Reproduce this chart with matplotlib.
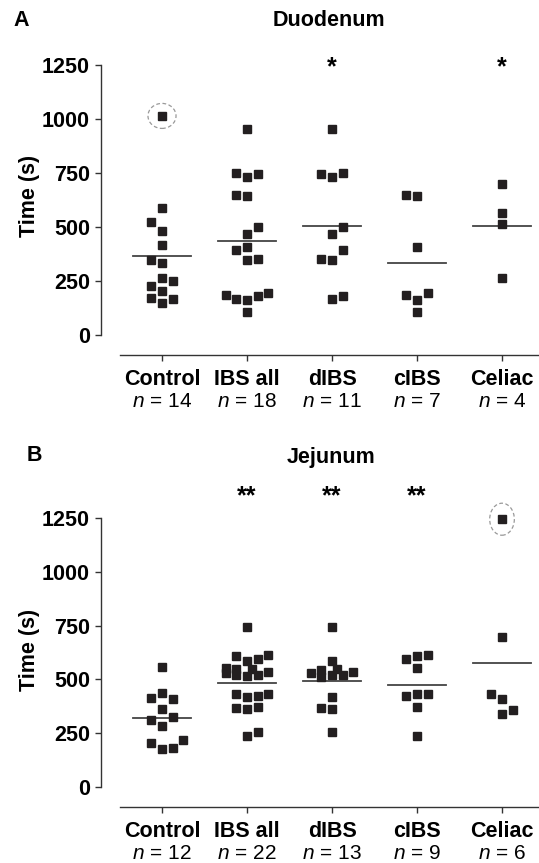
import matplotlib
matplotlib.use('Agg')
import matplotlib.pyplot as plt
from matplotlib.patches import Ellipse

plt.rcParams['font.family'] = ['Liberation Sans', 'DejaVu Sans']
plt.rcParams['mathtext.fontset'] = 'custom'
plt.rcParams['mathtext.it'] = 'Liberation Sans:italic'
plt.rcParams['mathtext.rm'] = 'Liberation Sans'

categories = ['Control', 'IBS all', 'dIBS', 'cIBS', 'Celiac']
yticks = [0, 250, 500, 750, 1000, 1250]

# Duodenum (panel A): values, jitter slot of each point, group mean
duo_n = [14, 18, 11, 7, 4]
duo_control = [1016, 589, 523, 481, 416, 348, 332, 263, 250, 227, 203, 172, 166, 147]
duo_control_slot = [0, 0, -1, 0, 0, -1, 0, 0, 1, -1, 0, -1, 1, 0]
duo_ibs = [954, 750, 734, 745, 648, 643, 500, 467, 407, 393, 346, 351, 184, 166, 161, 180, 193, 105]
duo_ibs_slot = [0, -1, 0, 1, -1, 0, 1, 0, 0, -1, 0, 1, -2, -1, 0, 1, 2, 0]
duo_dibs = [954, 745, 734, 750, 500, 467, 393, 351, 346, 180, 166]
duo_dibs_slot = [0, -1, 0, 1, 1, 0, 1, -1, 0, 1, 0]
duo_cibs = [648, 643, 407, 184, 193, 161, 105]
duo_cibs_slot = [-1, 0, 0, -1, 1, 0, 0]
duo_celiac = [699, 564, 513, 263]
duo_celiac_slot = [0, 0, 0, 0]
duo_means = [365, 437, 507, 332, 507]
duo_stars = ['', '', '*', '', '*']
duo_outlier = (0, 1016)

# Jejunum (panel B)
jej_n = [12, 22, 13, 9, 6]
jej_control = [556, 435, 412, 407, 360, 323, 309, 281, 202, 216, 174, 179]
jej_control_slot = [0, 0, -1, 1, 0, 1, -1, 0, -1, 2, 0, 1]
jej_ibs = [742, 607, 584, 593, 612, 551, 528, 547, 519, 547, 514, 519, 533,
           430, 416, 421, 430, 365, 360, 372, 235, 253]
jej_ibs_slot = [0, -1, 0, 1, 2, -2, -2, -1, -1, 0.5, 0, 1, 2, -1, 0, 1, 2, -1, 0, 1, 0, 1]
jej_dibs = [742, 584, 547, 528, 543, 512, 519, 519, 533, 416, 365, 360, 253]
jej_dibs_slot = [0, 0, 0.5, -2, -1, -1, 0, 1, 2, 0, -1, 0, 0]
jej_cibs = [612, 607, 593, 551, 430, 430, 421, 372, 235]
jej_cibs_slot = [1, 0, -1, 0, 1, 0, -1, 0, 0]
jej_celiac = [1245, 696, 430, 407, 356, 337]
jej_celiac_slot = [0, 0, -1, 0, 1, 0]
jej_means = [320, 484, 492, 472, 577]
jej_stars = ['', '**', '**', '**', '']
jej_outlier = (4, 1245)

W, H = 539, 863
fig = plt.figure(figsize=(W / 100, H / 100), dpi=100)

FS = 15.5
SLOT = 0.125
mark_col = '#231f20'
axis_col = '#333333'


def draw_panel(ax, groups, slots, means, ns, stars, outlier, star_y, ell_w, ell_h):
    for i, (vals, sl) in enumerate(zip(groups, slots)):
        xs = [i + s * SLOT for s in sl]
        ax.plot(xs, vals, 's', ms=5.2, color=mark_col, mec=mark_col, clip_on=False, zorder=3)
        ax.plot([i - 0.34, i + 0.34], [means[i], means[i]], color='#444444', lw=1.3, zorder=2)
        if stars[i]:
            ax.text(i, star_y, stars[i], ha='center', va='center', fontsize=18,
                    fontweight='bold', clip_on=False)
        ax.text(i, -0.083, categories[i], transform=ax.get_xaxis_transform(),
                ha='center', va='center', fontsize=FS, fontweight='bold')
        ax.text(i, -0.158, f'$n$ = {ns[i]}', transform=ax.get_xaxis_transform(),
                ha='center', va='center', fontsize=FS - 0.5)
    ox, oy = outlier
    ax.add_patch(Ellipse((ox, oy), ell_w, ell_h, fill=False, ec='#999999',
                         ls=(0, (3, 2)), lw=0.9, zorder=2, clip_on=False))

    ax.set_xlim(-0.7176, 4.435)
    ax.set_xticks(range(5))
    ax.set_xticklabels([])
    ax.set_yticks(yticks)
    ax.set_yticklabels([str(t) for t in yticks], fontsize=FS, fontweight='bold')
    ax.spines['top'].set_visible(False)
    ax.spines['right'].set_visible(False)
    ax.spines['left'].set_bounds(0, 1250)
    ax.spines['bottom'].set_bounds(-0.494, 4.435)
    for sp in ('left', 'bottom'):
        ax.spines[sp].set_color(axis_col)
        ax.spines[sp].set_linewidth(1.0)
    ax.tick_params(axis='y', direction='out', length=4, width=1, color=axis_col, pad=4)
    ax.tick_params(axis='x', direction='out', length=4, width=1, color=axis_col)


# panel A
axA = fig.add_axes([101 / W, 1 - 355 / H, 1 - 101 / W, (355 - 59) / H])
axA.set_ylim(-93, 1280)
draw_panel(axA,
           [duo_control, duo_ibs, duo_dibs, duo_cibs, duo_celiac],
           [duo_control_slot, duo_ibs_slot, duo_dibs_slot, duo_cibs_slot, duo_celiac_slot],
           duo_means, duo_n, duo_stars, duo_outlier, 1240, 0.33, 116)

# panel B
axB = fig.add_axes([101 / W, 1 - 807 / H, 1 - 101 / W, (807 - 511.7) / H])
axB.set_ylim(-94, 1280)
draw_panel(axB,
           [jej_control, jej_ibs, jej_dibs, jej_cibs, jej_celiac],
           [jej_control_slot, jej_ibs_slot, jej_dibs_slot, jej_cibs_slot, jej_celiac_slot],
           jej_means, jej_n, jej_stars, jej_outlier, 1350, 0.29, 149)

# titles, panel letters, y labels
fig.text(21 / W, 1 - 21 / H, 'A', ha='center', va='center', fontsize=FS, fontweight='bold')
fig.text(329 / W, 1 - 20 / H, 'Duodenum', ha='center', va='center', fontsize=FS, fontweight='bold')
fig.text(34 / W, 1 - 455 / H, 'B', ha='center', va='center', fontsize=FS, fontweight='bold')
fig.text(331 / W, 1 - 457 / H, 'Jejunum', ha='center', va='center', fontsize=FS, fontweight='bold')
fig.text(30 / W, 1 - 196 / H, 'Time (s)', rotation=90, ha='center', va='center',
         fontsize=FS, fontweight='bold')
fig.text(30 / W, 1 - 650 / H, 'Time (s)', rotation=90, ha='center', va='center',
         fontsize=FS, fontweight='bold')

fig.savefig('out.png', dpi=100)
